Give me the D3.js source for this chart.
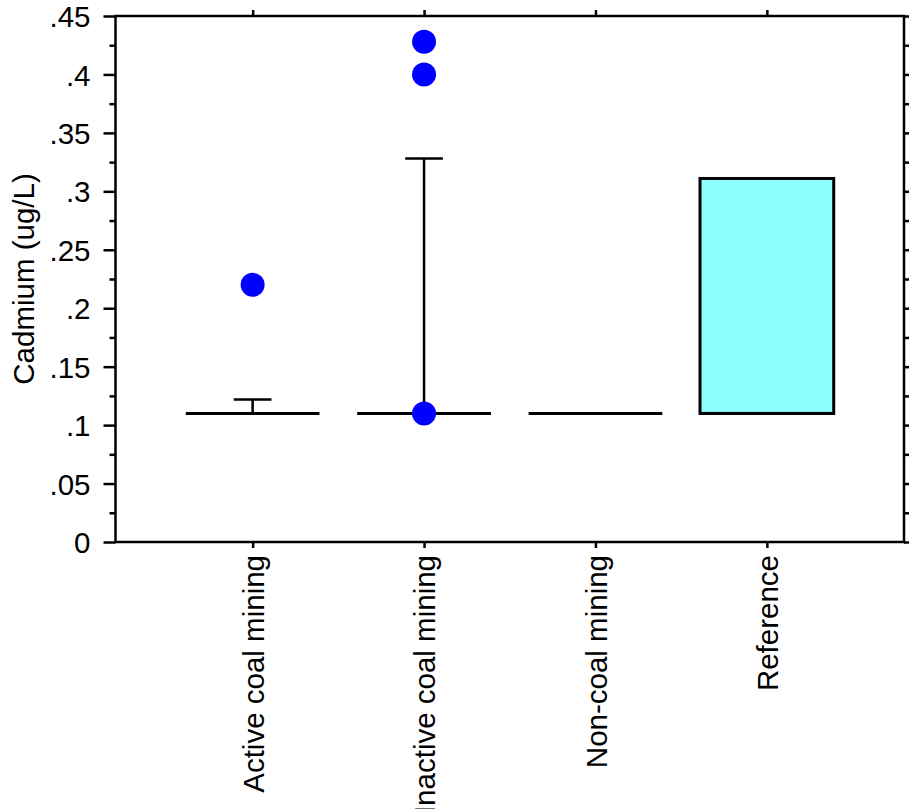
<!DOCTYPE html>
<html>
<head>
<meta charset="utf-8">
<script src="https://cdn.jsdelivr.net/npm/d3@7"></script>
<style>
  body { margin: 0; background: #fff; }
  text { font-family: "Liberation Sans", Arial, sans-serif; fill: #000; }
</style>
</head>
<body>
<div id="vis"></div>
<script>
// data
const categories = ["Active coal mining", "Inactive coal mining", "Non-coal mining", "Reference"]
const q1 = [0.11, 0.11, 0.11, 0.11]
const median = [0.11, 0.11, 0.11, 0.11]
const q3 = [0.11, 0.11, 0.11, 0.311]
const whiskerHigh = [0.122, 0.328, null, null]
const outliers = [[0.22], [0.11, 0.40, 0.428], [], []]
const yMajor = [0, 0.05, 0.1, 0.15, 0.2, 0.25, 0.3, 0.35, 0.4, 0.45]
const yMinor = [0.025, 0.075, 0.125, 0.175, 0.225, 0.275, 0.325, 0.375, 0.425]

const width = 909
const height = 809
const plotLeft = 115.5, plotRight = 904, plotTop = 16, plotBottom = 542
const fontSize = 29.5

const svg = d3.select("#vis")
    .append("svg")
    .attr("width", width)
    .attr("height", height)

const x = d3.scaleLinear().domain([0.2, 4.8]).range([plotLeft, plotRight])
const y = d3.scaleLinear().domain([0, 0.45]).range([plotBottom, plotTop])

const fmt = d => d === 0 ? "0" : String(+d.toFixed(3)).replace(/^0/, "")
const pos = categories.map((c, i) => i + 1)

//axes: major and minor ticks on all sides
function styleAxis(g) {
    g.select(".domain").remove()
    g.selectAll("line").attr("stroke", "#000").attr("stroke-width", 2.5)
}

svg.append("g").attr("transform", `translate(${plotLeft},0)`)
    .call(d3.axisLeft(y).tickValues(yMajor).tickSize(12).tickPadding(13).tickFormat(fmt))
    .call(styleAxis)
    .selectAll("text").style("font-size", fontSize + "px").attr("dy", "0.36em")
svg.append("g").attr("transform", `translate(${plotLeft},0)`)
    .call(d3.axisLeft(y).tickValues(yMinor).tickSize(6).tickFormat(""))
    .call(styleAxis)
svg.append("g").attr("transform", `translate(${plotRight},0)`)
    .call(d3.axisRight(y).tickValues(yMajor).tickSize(12).tickFormat(""))
    .call(styleAxis)
svg.append("g").attr("transform", `translate(${plotRight},0)`)
    .call(d3.axisRight(y).tickValues(yMinor).tickSize(6).tickFormat(""))
    .call(styleAxis)
svg.append("g").attr("transform", `translate(0,${plotTop})`)
    .call(d3.axisTop(x).tickValues(pos).tickSize(6).tickFormat(""))
    .call(styleAxis)

const xAxis = svg.append("g").attr("transform", `translate(0,${plotBottom})`)
    .call(d3.axisBottom(x).tickValues(pos).tickSize(6).tickFormat((d, i) => categories[i]))
    .call(styleAxis)
xAxis.selectAll("text")
    .style("font-size", fontSize + "px")
    .attr("text-anchor", "end")
    .attr("transform", "rotate(-90)")
    .attr("x", -13)
    .attr("y", 0)
    .attr("dy", "0.36em")

//frame
svg.append("rect")
    .attr("x", plotLeft).attr("y", plotTop)
    .attr("width", plotRight - plotLeft).attr("height", plotBottom - plotTop)
    .attr("fill", "none").attr("stroke", "#000").attr("stroke-width", 2.5)

//y label
svg.append("text")
    .attr("transform", `translate(34,${(plotTop + plotBottom) / 2}) rotate(-90)`)
    .attr("text-anchor", "middle")
    .style("font-size", fontSize + "px")
    .text("Cadmium (ug/L)")

//boxes
const half = 0.39
const capHalf = 0.11
const boxes = svg.append("g")

pos.forEach((p, i) => {
    if (whiskerHigh[i] != null) {
        boxes.append("line")
            .attr("x1", x(p)).attr("x2", x(p))
            .attr("y1", y(q3[i])).attr("y2", y(whiskerHigh[i]))
            .attr("stroke", "#000").attr("stroke-width", 2.5)
        boxes.append("line")
            .attr("x1", x(p - capHalf)).attr("x2", x(p + capHalf))
            .attr("y1", y(whiskerHigh[i])).attr("y2", y(whiskerHigh[i]))
            .attr("stroke", "#000").attr("stroke-width", 2.5)
    }
    if (q3[i] > q1[i]) {
        boxes.append("rect")
            .attr("x", x(p - half)).attr("y", y(q3[i]))
            .attr("width", x(p + half) - x(p - half))
            .attr("height", y(q1[i]) - y(q3[i]))
            .attr("fill", "#8cffff").attr("stroke", "#000").attr("stroke-width", 3)
    }
    boxes.append("line")
        .attr("x1", x(p - half)).attr("x2", x(p + half))
        .attr("y1", y(median[i])).attr("y2", y(median[i]))
        .attr("stroke", "#000").attr("stroke-width", 3)
})

//outliers
pos.forEach((p, i) => {
    boxes.selectAll(null)
        .data(outliers[i])
        .enter()
        .append("circle")
        .attr("cx", x(p))
        .attr("cy", d => y(d))
        .attr("r", 12)
        .attr("fill", "#0000ff")
})
</script>
</body>
</html>
